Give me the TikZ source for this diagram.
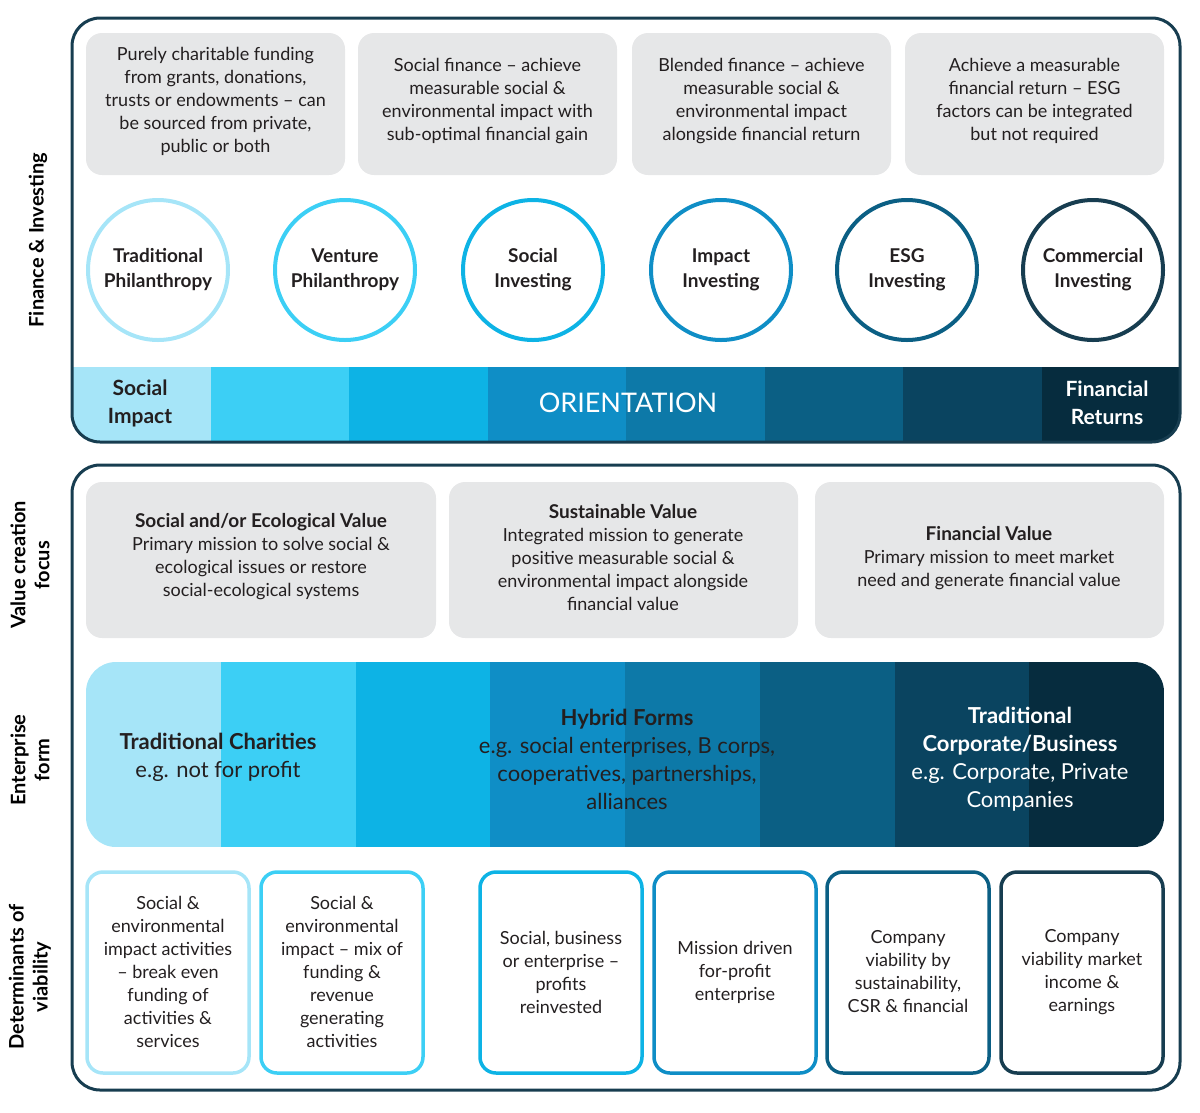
\documentclass[tikz,border=0pt]{standalone}
\usepackage{fontspec}
\setmainfont{Lato}
\definecolor{c1}{HTML}{A6E5F8}
\definecolor{c2}{HTML}{3CCFF5}
\definecolor{c3}{HTML}{0DB3E5}
\definecolor{c4}{HTML}{0F8EC6}
\definecolor{c5}{HTML}{0D79A8}
\definecolor{c6}{HTML}{0B5F84}
\definecolor{c7}{HTML}{0A4460}
\definecolor{c8}{HTML}{062C3E}
\definecolor{navy}{HTML}{173D50}
\definecolor{gbox}{HTML}{E6E7E8}
\definecolor{txt}{HTML}{231F20}
\begin{document}
\begin{tikzpicture}[x=1pt,y=-1pt,
  outer/.style={draw=navy,line width=3pt,rounded corners=28pt},
  gray/.style={fill=gbox,rounded corners=16pt},
  gt/.style={text=txt,align=center,font=\fontsize{18}{23}\selectfont},
  circ/.style={circle,draw=#1,line width=4pt,minimum size=140pt,align=center,font=\bfseries\fontsize{19}{25}\selectfont,text=txt},
  vbox/.style={draw=#1,line width=3.5pt,rounded corners=16pt},
  side/.style={rotate=90,align=center,font=\bfseries\fontsize{20}{24}\selectfont,text=black}]
\useasboundingbox (0,0) rectangle (1200,1112);
% ---------- top panel
\begin{scope}
\clip[rounded corners=28pt] (72,18) rectangle (1180,442);
\foreach \i/\c in {0/c1,1/c2,2/c3,3/c4,4/c5,5/c6,6/c7,7/c8}
  \fill[\c] (72+\i*138.5,367) rectangle (72+\i*138.5+139,442);
\end{scope}
\draw[outer] (72,18) rectangle (1180,442);
\node[side] (fi) at (38,240) {Finance \& Investing};
\foreach \x/\n/\t in {86/g1/{Purely charitable funding\\from grants, donations,\\trusts or endowments -- can\\be sourced from private,\\public or both},
  358/g2/{Social finance -- achieve\\measurable social \&\\environmental impact with\\sub-optimal financial gain},
  632/g3/{Blended finance -- achieve\\measurable social \&\\environmental impact\\alongside financial return},
  905/g4/{Achieve a measurable\\financial return -- ESG\\factors can be integrated\\but not required}}{
  \fill[gray] (\x,33) rectangle (\x+259,175);
  \node[gt] (\n) at (\x+129.5,101) {\t};}
\node[circ=c1] (p1) at (158,270) {Traditional\\Philanthropy};
\node[circ=c2] (p2) at (345,270) {Venture\\Philanthropy};
\node[circ=c3] (p3) at (533,270) {Social\\Investing};
\node[circ=c4] (p4) at (721,270) {Impact\\Investing};
\node[circ=c6] (p5) at (907,270) {ESG\\Investing};
\node[circ=navy] (p6) at (1093,270) {Commercial\\Investing};
\node[align=center,font=\bfseries\fontsize{21}{28}\selectfont,text=txt] (si) at (140,403) {Social\\Impact};
\node[text=white,font=\fontsize{27}{30}\selectfont] (or) at (628,403) {ORIENTATION};
\node[align=center,font=\bfseries\fontsize{21}{28}\selectfont,text=white] (fr) at (1107,403) {Financial\\Returns};
% ---------- bottom panel
\draw[outer] (72,465) rectangle (1180,1090);
\node[side] (vc) at (30,565) {Value creation\\focus};
\node[side] (ef) at (30,760) {Enterprise\\form};
\node[side] (dv) at (30,977) {Determinants of\\viability};
\fill[gray] (86,482) rectangle (436,638);
\node[gt] (v1) at (261,557) {\textbf{\fontsize{19}{23}\selectfont Social and/or Ecological Value}\\Primary mission to solve social \&\\ecological issues or restore\\social-ecological systems};
\fill[gray] (449,482) rectangle (798,638);
\node[gt] (v2) at (623,558) {\textbf{\fontsize{19}{23}\selectfont Sustainable Value}\\Integrated mission to generate\\positive measurable social \&\\environmental impact alongside\\financial value};
\fill[gray] (815,482) rectangle (1164,638);
\node[gt] (v3) at (989,558) {\textbf{\fontsize{19}{23}\selectfont Financial Value}\\Primary mission to meet market\\need and generate financial value};
\begin{scope}
\clip[rounded corners=30pt] (86,662) rectangle (1164,847);
\foreach \i/\c in {0/c1,1/c2,2/c3,3/c4,4/c5,5/c6,6/c7,7/c8}
  \fill[\c] (86+\i*134.75,662) rectangle (86+\i*134.75+135.5,847);
\end{scope}
\node[align=center,text=txt,font=\fontsize{22}{28}\selectfont] (e1) at (218,757) {\textbf{Traditional Charities}\\e.g. not for profit};
\node[align=center,text=txt,font=\fontsize{22}{28}\selectfont] (e2) at (627,759) {\textbf{Hybrid Forms}\\e.g. social enterprises, B corps,\\cooperatives, partnerships,\\alliances};
\node[align=center,text=white,font=\fontsize{22}{28}\selectfont] (e3) at (1020,759) {\textbf{Traditional}\\\textbf{Corporate/Business}\\e.g. Corporate, Private\\Companies};
\foreach \x/\c/\n/\t in {87/c1/b1/{Social \&\\environmental\\impact activities\\-- break even\\funding of\\activities \&\\services},
  261/c2/b2/{Social \&\\environmental\\impact -- mix of\\funding \&\\revenue\\generating\\activities},
  480/c3/b3/{Social, business\\or enterprise --\\profits\\reinvested},
  654/c4/b4/{Mission driven\\for-profit\\enterprise},
  827/c6/b5/{Company\\viability by\\sustainability,\\CSR \& financial},
  1001/navy/b6/{Company\\viability market\\income \&\\earnings}}{
  \draw[vbox=\c] (\x,872) rectangle (\x+162,1073);
  \node[gt] (\n) at (\x+81,972) {\t};}
\end{tikzpicture}
\end{document}
